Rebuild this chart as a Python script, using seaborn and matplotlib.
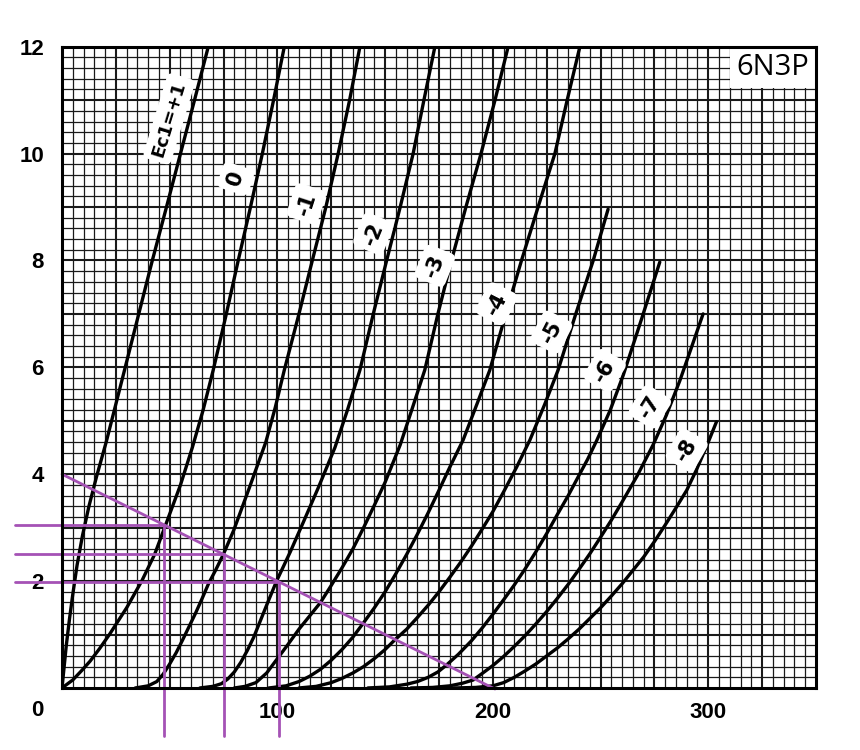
import numpy as np
import pandas as pd
import matplotlib
matplotlib.use("Agg")
import matplotlib.pyplot as plt
import seaborn as sns
from matplotlib.patches import Rectangle

# ---------------- data ----------------
grids = ["+1", "0", "-1", "-2", "-3", "-4", "-5", "-6", "-7", "-8"]

V_p1 = [0, 1, 2, 3.5, 5, 7, 9.5, 12.5, 16, 20.5, 28.4, 35, 41.6, 48.5, 55, 61.5, 67.9]
I_p1 = [0, 0.4, 0.8, 1.3, 1.75, 2.3, 2.85, 3.4, 3.95, 4.6, 5.85, 6.9, 7.95, 9, 10, 11, 12]

V_0 = [0, 5, 9, 13, 17.5, 22, 26, 30, 33.5, 37, 43, 48, 55, 60.5, 65.5, 70.2, 76, 81.8, 87.5, 93, 98.2, 103.2]
I_0 = [0, 0.15, 0.32, 0.5, 0.74, 1, 1.25, 1.5, 1.75, 2, 2.5, 3.04, 3.8, 4.5, 5.2, 5.95, 6.95, 8, 9, 10, 11, 12]

V_m1 = [34, 40, 44, 47, 50, 53, 56, 59, 62, 65, 68, 71.5, 74.9, 79.7, 87, 94.6, 99, 103.2, 110, 116.2, 122.5, 128.2, 133.5, 138.3]
I_m1 = [0, 0.04, 0.12, 0.26, 0.45, 0.66, 0.9, 1.15, 1.4, 1.67, 1.95, 2.22, 2.5, 2.95, 3.75, 4.6, 5.25, 5.95, 7, 8, 9, 10, 11, 12]

V_m2 = [64, 70, 74, 77, 80, 83, 86, 89, 92, 95.5, 99.6, 106, 112, 119, 126.7, 132.5, 138.3, 144.5, 150.7, 157, 163, 168, 173.1]
I_m2 = [0, 0.03, 0.08, 0.17, 0.3, 0.48, 0.7, 0.95, 1.25, 1.6, 2, 2.55, 3.1, 3.75, 4.5, 5.2, 5.95, 7, 8, 9, 10, 11, 12]

V_m3 = [80, 85, 90, 95, 100, 105, 110, 115, 120, 125, 130, 135, 140, 145, 150, 157, 162.5, 168.4, 174.5, 180.8, 187.5, 194.5, 201, 207.1]
I_m3 = [0, 0.03, 0.1, 0.28, 0.55, 0.82, 1.1, 1.35, 1.6, 1.92, 2.25, 2.6, 3.0, 3.42, 3.85, 4.55, 5.22, 5.95, 7, 8, 9, 10, 11, 12]

V_m4 = [96, 104, 110, 115, 120, 125, 130, 135, 139.8, 145, 150, 155, 160, 165, 170, 175, 180, 186.2, 192.5, 198.6, 206, 213.3, 221, 228.8, 234.5, 240.4]
I_m4 = [0, 0.04, 0.12, 0.22, 0.35, 0.52, 0.72, 0.95, 1.21, 1.5, 1.8, 2.14, 2.5, 2.88, 3.28, 3.7, 4.13, 4.64, 5.3, 5.95, 7, 8, 9, 10, 11, 12]

V_m5 = [110, 118, 125, 130, 135, 140, 145, 150, 154.5, 160, 165, 170, 175, 180, 185, 190, 195, 200, 205, 211, 217.2, 224, 230.3, 238.5, 246.6, 253.5]
I_m5 = [0, 0.03, 0.1, 0.18, 0.28, 0.4, 0.55, 0.72, 0.9, 1.1, 1.32, 1.55, 1.8, 2.07, 2.35, 2.65, 2.97, 3.3, 3.67, 4.13, 4.64, 5.3, 5.95, 7, 8, 8.96]

V_m6 = [142, 152, 160, 165, 170, 174.5, 178.5, 184, 190, 195, 200, 205, 210, 215, 220, 225, 230, 235, 240, 244, 248.1, 254.5, 260.5, 269, 277.5]
I_m6 = [0, 0.02, 0.07, 0.12, 0.2, 0.3, 0.43, 0.63, 0.88, 1.12, 1.38, 1.65, 1.93, 2.23, 2.55, 2.89, 3.25, 3.6, 3.98, 4.28, 4.62, 5.2, 5.85, 6.9, 7.97]

V_m7 = [162, 172, 180, 186, 190.9, 195, 200, 205, 210, 215, 220, 225, 230, 235, 240, 245, 250, 255, 260, 267, 274.4, 280.5, 286.8, 292, 297.6]
I_m7 = [0, 0.01, 0.04, 0.09, 0.15, 0.27, 0.42, 0.59, 0.78, 0.98, 1.2, 1.43, 1.68, 1.94, 2.22, 2.51, 2.82, 3.14, 3.48, 3.97, 4.55, 5.1, 5.75, 6.35, 7.0]

V_m8 = [182, 192, 200, 205, 210, 215, 220, 225, 230, 235, 240, 245, 250, 255, 260, 265, 270, 275, 280, 285, 290, 294.5, 299.1, 303.8]
I_m8 = [0, 0.01, 0.04, 0.1, 0.2, 0.32, 0.45, 0.6, 0.75, 0.92, 1.1, 1.3, 1.5, 1.72, 1.95, 2.2, 2.45, 2.74, 3.05, 3.37, 3.7, 4.08, 4.51, 4.98]

curve_V = [V_p1, V_0, V_m1, V_m2, V_m3, V_m4, V_m5, V_m6, V_m7, V_m8]
curve_I = [I_p1, I_0, I_m1, I_m2, I_m3, I_m4, I_m5, I_m6, I_m7, I_m8]

curve_labels = ["Ec1=+1", "0", "-1", "-2", "-3", "-4", "-5", "-6", "-7", "-8"]

# load line (V, I) and operating points
load_V = [0, 201]
load_I = [4, -0.02]
op_V = [47.5, 75, 100.5]
op_I = [3.05, 2.5, 1.99]

x_ticks = [100, 200, 300]
y_ticks = [2, 4, 6, 8, 10, 12]
tube_name = "6N3P"

# ---------------- layout / style ----------------
label_pos = [(49.7, 10.65), (80.7, 9.53), (113.5, 9.06), (144.5, 8.5), (173.1, 7.9),
             (201.7, 7.19), (227.2, 6.66), (252.0, 5.94), (272.9, 5.26), (290.0, 4.45)]
label_rot = [73, 72, 72, 68, 68, 63, 63, 60, 58, 60]
label_size = [13, 15, 15, 15, 15, 15, 15, 15, 15, 15]

sns.set_theme(style="white")
plt.rcParams["font.family"] = ["DejaVu Sans"]

fig = plt.figure(figsize=(8.6, 7.5), dpi=100)
ax = fig.add_axes([0.0721, 0.0827, 0.8767, 0.855])
ax.set_xlim(0, 350)
ax.set_ylim(0, 12)

# graph-paper grid
for xv in np.arange(5, 350, 5):
    ax.axvline(xv, color="#1a1a1a", lw=1.5 if xv % 25 == 0 else 0.9, zorder=1)
for yv in np.arange(0.2, 12, 0.2):
    yr = round(yv, 1)
    ax.axhline(yr, color="#1a1a1a", lw=1.5 if abs(yr - round(yr)) < 1e-6 else 0.9, zorder=1)

# curves
frames = []
for g, v, i in zip(grids, curve_V, curve_I):
    frames.append(pd.DataFrame({"V": v, "I": i, "Ec1": g}))
df = pd.concat(frames, ignore_index=True)
sns.lineplot(data=df, x="V", y="I", hue="Ec1", palette={g: "black" for g in grids},
             estimator=None, sort=False, legend=False, lw=2.4, ax=ax, zorder=3)
for ln in ax.get_lines():
    ln.set_solid_joinstyle("round")
    ln.set_solid_capstyle("round")

# curve labels
for txt, (lx, ly), rot, fs in zip(curve_labels, label_pos, label_rot, label_size):
    ax.text(lx, ly, txt, rotation=rot, ha="center", va="center", fontsize=fs,
            fontweight="bold", color="black", zorder=4,
            bbox=dict(boxstyle="round,pad=0.3", fc="white", ec="none"))

# load line and projections
purple = "#a552b5"
ax.plot(load_V, load_I, color=purple, lw=2.0, zorder=6, clip_on=False)
for v, i in zip(op_V, op_I):
    ax.plot([-21.8, v], [i, i], color=purple, lw=2.0, zorder=6, clip_on=False)
    ax.plot([v, v], [i, -0.9], color=purple, lw=2.0, zorder=6, clip_on=False)

# tube name box
ax.add_patch(Rectangle((310, 11.22), 40, 0.78, fc="white", ec="none", zorder=5))
ax.text(330, 11.61, tube_name, ha="center", va="center", fontsize=21,
        family=["Open Sans", "DejaVu Sans"], color="black", zorder=6)

# ticks
tick_family = ["Liberation Sans Narrow", "Liberation Sans", "DejaVu Sans"]
ax.set_xticks(x_ticks)
ax.set_yticks(y_ticks)
ax.set_xticklabels([str(t) for t in x_ticks])
ax.set_yticklabels([str(t) for t in y_ticks])
ax.tick_params(axis="both", length=0, labelsize=16, labelcolor="black")
ax.tick_params(axis="x", pad=10)
ax.tick_params(axis="y", pad=13)
for lab in ax.get_xticklabels() + ax.get_yticklabels():
    lab.set_fontweight("bold")
    lab.set_family(tick_family)
fig.text(37 / 860, 1 - 710 / 750, "0", ha="center", va="center", fontsize=16,
         fontweight="bold", family=tick_family, color="black")

ax.set_xlabel("")
ax.set_ylabel("")
for s in ax.spines.values():
    s.set_visible(True)
    s.set_color("black")
    s.set_linewidth(2.2)
    s.set_zorder(7)

fig.savefig("out.png", dpi=100, facecolor="white")
